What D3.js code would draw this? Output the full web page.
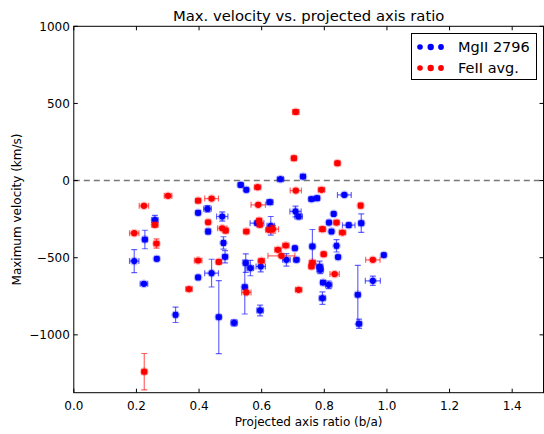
<!DOCTYPE html>
<html><head><meta charset="utf-8">
<script src="https://cdn.jsdelivr.net/npm/d3@7"></script>
<style>body{margin:0;background:#fff}svg{display:block}text{font-family:"DejaVu Sans",sans-serif}</style>
</head><body><div id="c"></div>
<script>
// MgII 2796: [b/a, vmax, xerr, yerr]
const mgX   = [0.193,0.224,0.227,0.259,0.265,0.325,0.397,0.397,0.427,0.429,0.440,0.463,0.474,0.478,0.483,0.512,0.533,0.551,0.549,0.546,0.564,0.585,0.595,0.597,0.626,0.629,0.660,0.679,0.706,0.708,0.711,0.718,0.732,0.759,0.777,0.762,0.785,0.787,0.794,0.796,0.814,0.815,0.823,0.830,0.839,0.844,0.864,0.878,0.907,0.911,0.918,0.955,0.990];
const mgY   = [-522,-669,-382,-255,-507,-870,-209,-628,-183,-330,-600,-885,-233,-404,-494,-922,-28,-60,-535,-690,-567,-276,-842,-557,-140,-293,9,-514,-438,-200,-514,-233,26,-120,-114,-427,-557,-578,-762,-661,-676,-272,-330,-216,-423,-496,-93,-289,-740,-928,-276,-650,-483];
const mgXerr= [0.015,0.012,0.008,0.010,0.006,0.006,0.006,0.006,0.012,0.006,0.022,0.008,0.018,0.006,0.008,0.010,0.008,0.006,0.008,0.008,0.010,0.022,0.010,0.015,0.010,0.012,0.010,0.012,0.006,0.018,0.008,0.012,0.008,0.008,0.008,0.008,0.010,0.010,0.010,0.008,0.010,0.006,0.006,0.006,0.006,0.006,0.022,0.020,0.008,0.008,0.008,0.024,0.006];
const mgYerr= [75,10,60,30,10,50,12,10,20,15,90,237,30,40,40,20,10,10,60,175,50,15,35,35,15,60,10,40,10,35,10,15,10,10,10,110,35,25,40,10,25,10,10,10,40,10,10,15,190,30,60,30,10];
// FeII avg.
const feX   = [0.193,0.224,0.225,0.259,0.264,0.301,0.368,0.397,0.397,0.429,0.440,0.463,0.474,0.485,0.551,0.551,0.587,0.589,0.592,0.594,0.599,0.623,0.636,0.652,0.663,0.677,0.703,0.709,0.709,0.718,0.759,0.762,0.791,0.794,0.798,0.833,0.839,0.842,0.858,0.916,0.955];
const feY   = [-341,-164,-1239,-287,-408,-99,-703,-130,-518,-270,-117,-527,-309,-324,-330,-725,-43,-157,-259,-287,-520,-319,-315,-449,-488,-421,145,445,-65,-708,-557,-531,-60,-315,-477,-606,-272,113,-337,-162,-514];
const feXerr= [0.015,0.015,0.008,0.010,0.008,0.012,0.010,0.008,0.012,0.006,0.022,0.008,0.015,0.008,0.008,0.015,0.010,0.023,0.008,0.008,0.010,0.010,0.018,0.010,0.043,0.010,0.008,0.010,0.018,0.010,0.008,0.010,0.010,0.010,0.008,0.015,0.008,0.008,0.010,0.006,0.023];
const feYerr= [10,10,118,15,30,10,10,10,10,10,10,10,10,15,10,10,10,10,10,10,10,10,25,10,10,10,10,15,10,10,10,10,10,15,10,10,10,10,10,15,10];

const xTicks = [0.0,0.2,0.4,0.6,0.8,1.0,1.2,1.4];
const yTicks = [-1000,-500,0,500,1000];
const seriesNames = ["MgII 2796","FeII avg."];

const W=544,H=434, L=73.8, R=543.5, T=26.3, B=392.7;
const svg=d3.select("#c").append("svg").attr("width",W).attr("height",H);
const x=d3.scaleLinear().domain([0,1.5]).range([L,R]);
const y=d3.scaleLinear().domain([-1375,1000]).range([B,T]);

svg.append("clipPath").attr("id","cp").append("rect").attr("x",L).attr("y",T).attr("width",R-L).attr("height",B-T);

// zero line
svg.append("line").attr("x1",L).attr("x2",R).attr("y1",y(0)).attr("y2",y(0))
  .attr("stroke","#777").attr("stroke-width",1.6).attr("stroke-dasharray","6,4");

const plot=svg.append("g").attr("clip-path","url(#cp)");
function drawSeries(X,Y,XE,YE,col){
  const g=plot.append("g");
  const data=X.map((v,i)=>({x:v,y:Y[i],xe:XE[i],ye:YE[i]}));
  const eb=g.append("g").attr("stroke",col).attr("stroke-opacity",0.6).attr("stroke-width",1.2).attr("fill","none");
  data.forEach(d=>{
    const cx=x(d.x), cy=y(d.y);
    const y0=y(d.y-d.ye), y1=y(d.y+d.ye), x0=x(d.x-d.xe), x1=x(d.x+d.xe);
    eb.append("line").attr("x1",cx).attr("x2",cx).attr("y1",y0).attr("y2",y1);
    eb.append("line").attr("x1",cx-3).attr("x2",cx+3).attr("y1",y0).attr("y2",y0);
    eb.append("line").attr("x1",cx-3).attr("x2",cx+3).attr("y1",y1).attr("y2",y1);
    eb.append("line").attr("x1",x0).attr("x2",x1).attr("y1",cy).attr("y2",cy);
    eb.append("line").attr("x1",x0).attr("x2",x0).attr("y1",cy-3).attr("y2",cy+3);
    eb.append("line").attr("x1",x1).attr("x2",x1).attr("y1",cy-3).attr("y2",cy+3);
  });
  g.selectAll("circle.h").data(data).join("circle").attr("class","h")
    .attr("cx",d=>x(d.x)).attr("cy",d=>y(d.y)).attr("r",4.4).attr("fill",col).attr("opacity",0.25);
  g.selectAll("circle.m").data(data).join("circle").attr("class","m")
    .attr("cx",d=>x(d.x)).attr("cy",d=>y(d.y)).attr("r",3.1).attr("fill",col);
}
drawSeries(mgX,mgY,mgXerr,mgYerr,"#0000ff");
drawSeries(feX,feY,feXerr,feYerr,"#ff0000");

// frame
svg.append("rect").attr("x",L).attr("y",T).attr("width",R-L).attr("height",B-T)
  .attr("fill","none").attr("stroke","#000").attr("stroke-width",1);

// ticks (inside, all sides)
const tg=svg.append("g").attr("stroke","#000").attr("stroke-width",1);
xTicks.forEach(t=>{
  tg.append("line").attr("x1",x(t)).attr("x2",x(t)).attr("y1",B).attr("y2",B-4);
  tg.append("line").attr("x1",x(t)).attr("x2",x(t)).attr("y1",T).attr("y2",T+4);
});
yTicks.forEach(t=>{
  tg.append("line").attr("x1",L).attr("x2",L+4).attr("y1",y(t)).attr("y2",y(t));
  tg.append("line").attr("x1",R).attr("x2",R-4).attr("y1",y(t)).attr("y2",y(t));
});
const fmtX=d3.format(".1f");
svg.append("g").selectAll("text").data(xTicks).join("text")
  .attr("x",d=>x(d)).attr("y",B+17).attr("text-anchor","middle").attr("font-size",12).attr("fill","#000").text(d=>fmtX(d));
svg.append("g").selectAll("text").data(yTicks).join("text")
  .attr("x",L-4).attr("y",d=>y(d)+4.3).attr("text-anchor","end").attr("font-size",12).attr("fill","#000")
  .text(d=>d<0?"\u2212"+Math.abs(d):String(d));

svg.append("text").attr("x",(L+R)/2).attr("y",21).attr("text-anchor","middle").attr("font-size",14.8).text("Max. velocity vs. projected axis ratio");
svg.append("text").attr("x",(L+R)/2).attr("y",426).attr("text-anchor","middle").attr("font-size",12).text("Projected axis ratio (b/a)");
svg.append("text").attr("transform",`translate(21,${(T+B)/2}) rotate(-90)`).attr("text-anchor","middle").attr("font-size",12).text("Maximum velocity (km/s)");

// legend
const lg=svg.append("g");
lg.append("rect").attr("x",411.5).attr("y",33.5).attr("width",125).attr("height",46).attr("fill","#fff").attr("stroke","#000").attr("stroke-width",1);
const cols=["#0000ff","#ff0000"];
seriesNames.forEach((n,i)=>{
  const cy=47+i*21;
  [[420,2.8],[430.7,3.2],[441,2.9]].forEach(([cx,r])=>lg.append("circle").attr("cx",cx).attr("cy",cy).attr("r",r).attr("fill",cols[i]));
  lg.append("text").attr("x",458).attr("y",cy+5).attr("font-size",14.5).text(n);
});
</script></body></html>
